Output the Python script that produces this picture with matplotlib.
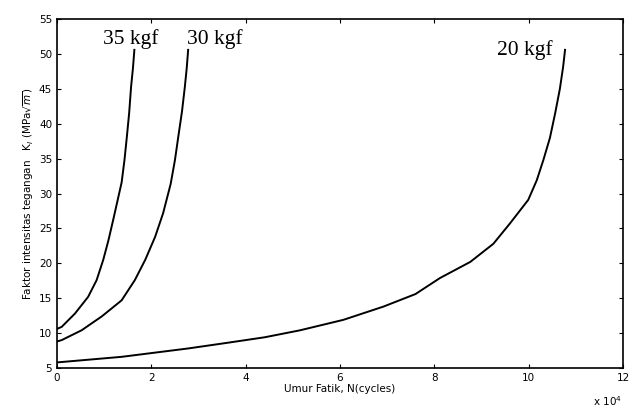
import matplotlib
matplotlib.use("Agg")
import matplotlib.pyplot as plt

# cycles (x 10^4) and stress intensity factor K_I (MPa sqrt(m))
n_35 = [0.0, 0.10, 0.38, 0.66, 0.84, 0.98, 1.09, 1.19, 1.30, 1.37, 1.43, 1.48, 1.53, 1.57, 1.61, 1.64]
k_35 = [10.6, 10.9, 12.8, 15.2, 17.6, 20.5, 23.3, 26.2, 29.5, 31.6, 34.8, 38.1, 41.6, 45.3, 48.0, 50.6]

n_30 = [0.0, 0.10, 0.52, 0.95, 1.37, 1.65, 1.87, 2.08, 2.25, 2.41, 2.50, 2.57, 2.65, 2.71, 2.75, 2.78]
k_30 = [8.8, 9.0, 10.4, 12.4, 14.7, 17.6, 20.5, 23.8, 27.2, 31.4, 34.8, 38.1, 41.8, 45.3, 48.0, 50.6]

n_20 = [0.0, 1.37, 2.78, 3.6, 4.4, 5.15, 6.07, 6.92, 7.6, 8.12, 8.76, 9.25, 9.60, 9.99, 10.17, 10.31, 10.45, 10.56, 10.66, 10.73, 10.77]
k_20 = [5.8, 6.6, 7.8, 8.6, 9.4, 10.4, 11.9, 13.8, 15.6, 17.9, 20.2, 22.8, 25.7, 29.1, 31.9, 34.8, 38.0, 41.5, 45.0, 48.2, 50.6]

labels = ["35 kgf", "30 kgf", "20 kgf"]
xticks = [0, 2, 4, 6, 8, 10, 12]
yticks = [5, 10, 15, 20, 25, 30, 35, 40, 45, 50, 55]

fig = plt.figure(figsize=(6.3, 4.16), dpi=100)
ax = fig.add_axes([0.0905, 0.1154, 0.8985, 0.8386])

for n, k in [(n_35, k_35), (n_30, k_30), (n_20, k_20)]:
    ax.plot(n, k, color="black", lw=1.4)

ax.set_xlim(0, 12)
ax.set_ylim(5, 55)
ax.set_xticks(xticks)
ax.set_yticks(yticks)
ax.tick_params(direction="in", labelsize=7.5, length=3, top=True, right=True)
for s in ax.spines.values():
    s.set_linewidth(1.2)

serif = dict(family="Liberation Serif", fontsize=15.5, color="black")
ax.text(1.57, 52.2, labels[0], ha="center", va="center", **serif)
ax.text(3.35, 52.2, labels[1], ha="center", va="center", **serif)
ax.text(9.92, 50.6, labels[2], ha="center", va="center", **serif)

ax.set_xlabel("Umur Fatik, N(cycles)", fontsize=7.5, labelpad=1)
ax.set_ylabel("Faktor intensitas tegangan   K$_I$ (MPa$\\sqrt{m}$)", fontsize=7.5, labelpad=2)
fig.text(0.965, 0.02, "x 10$^4$", fontsize=7.5, ha="center", va="bottom")

fig.savefig("out.png", dpi=100)
